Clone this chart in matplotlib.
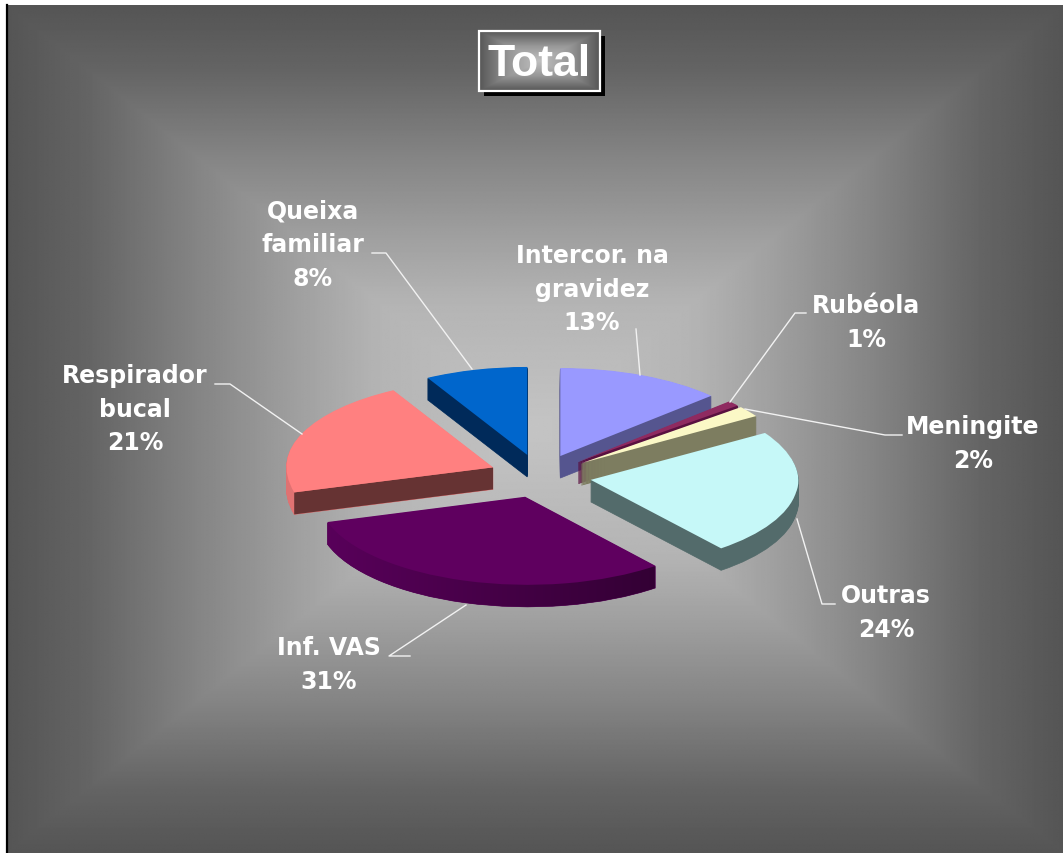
import numpy as np
import matplotlib
matplotlib.use('Agg')
import matplotlib.pyplot as plt
from matplotlib.path import Path
from matplotlib.patches import Rectangle, Polygon
from matplotlib.transforms import Transform, Affine2D

labels = ['Intercor. na\ngravidez\n13%', 'Rubéola\n1%', 'Meningite\n2%', 'Outras\n24%',
          'Inf. VAS\n31%', 'Respirador\nbucal\n21%', 'Queixa\nfamiliar\n8%']
values = [13, 1, 2, 24, 31, 21, 8]
top_colors = ['#9999ff', '#8f2a60', '#fbf8c6', '#c6f8f8', '#5f005f', '#ff8080', '#0066cc']
side_colors = ['#55558f', '#5a1040', '#7d7d60', '#536b6b', '#520052', '#e07272', '#002a5a']

label_pos = [(592, 290), (866, 323), (973, 444), (886, 613), (329, 665), (135, 410), (313, 245)]
leaders = [
    [(636, 330), (640, 376)],
    [(806, 314), (795, 314), (730, 403)],
    [(902, 436), (885, 436), (745, 410)],
    [(835, 605), (822, 605), (797, 520)],
    [(410, 657), (389, 657), (466, 606)],
    [(215, 385), (230, 385), (302, 435)],
    [(372, 254), (386, 254), (472, 370)],
]

W, H = 1063, 854
cx, cy = 540, 477   # pie centre in pixels
rx, ry = 207, 88    # pixels per pie radius
depth = 22
explode = 0.247


def rect_gradient(nx, ny, stops, levels):
    x = np.abs(np.linspace(-1, 1, nx))
    y = np.abs(np.linspace(-1, 1, ny))
    return np.interp(np.maximum.outer(y, x), stops, levels)


class FrontSkew(Transform):
    # the original 3D pie leans a little in its front half
    input_dims = 2
    output_dims = 2

    def transform_non_affine(self, v):
        x, y = v[:, 0], v[:, 1]
        g = np.clip(-y / 0.2, 0, 1)
        return np.column_stack([x + 0.052 * np.maximum(-y, 0), y + 0.04 * x * g])


fig = plt.figure(figsize=(W / 100, H / 100), dpi=100, facecolor='white')

# background
bg = fig.add_axes([0, 0, 1, 1], zorder=0)
bg.imshow(rect_gradient(600, 500, [0, 0.3, 0.45, 0.64, 0.85, 1], [196, 180, 160, 133, 100, 85]),
          cmap='gray', vmin=0, vmax=255, extent=(8, 1063, 854, 6), aspect='auto', interpolation='bilinear')
bg.plot([7, 7], [6, 854], color='black', lw=1.6)
bg.set_xlim(0, W)
bg.set_ylim(H, 0)
bg.axis('off')

# pie, squashed to an ellipse, thickness made from stacked layers
ax = fig.add_axes([0, 0, 1, 1], zorder=1)
skew = FrontSkew()
rim_parts = []
for d in range(depth, 0, -1):
    wedges, _ = ax.pie(values, explode=[explode] * len(values), colors=side_colors, startangle=90,
                       counterclock=False, radius=1, wedgeprops=dict(linewidth=0.5))
    layer = skew + Affine2D().translate(0, -d / ry)
    for w, c in zip(wedges, side_colors):
        w.set_transform(layer + ax.transData)
        w.set_edgecolor(c)
    vas = wedges[4]
    rim_parts.append(layer.transform_path(vas.get_path().transformed(vas.get_patch_transform())))
top, _ = ax.pie(values, explode=[explode] * len(values), colors=top_colors, startangle=90,
                counterclock=False, radius=1, wedgeprops=dict(linewidth=0))
for w in top:
    w.set_transform(skew + ax.transData)
    w.set_zorder(5)

# rim of the big slice darkens to the right
rim = Path.make_compound_path(*rim_parts)
shade = np.linspace(0x5a, 0x30, 256).reshape(1, -1)
im = ax.imshow(np.dstack([shade, shade * 0, shade * 1.02]) / 255, extent=(-1.1, 0.7, -1.6, -0.1),
               aspect='auto', zorder=1.5)
im.set_clip_path(rim, ax.transData)

# cut wall of the Respirador slice
a = np.deg2rad(90 - 360 * sum(values[:5]) / sum(values))
mid = np.deg2rad(90 - 360 * (sum(values[:5]) + values[5] / 2) / sum(values))
ox, oy = explode * np.cos(mid), explode * np.sin(mid)
(ax0, ay0), (tx, ty) = skew.transform(np.array([[ox, oy], [ox + np.cos(a), oy + np.sin(a)]]))
dd = depth / ry
ax.add_patch(Polygon([(ax0, ay0), (tx, ty), (tx, ty - dd), (ax0, ay0 - dd)], closed=True,
                     facecolor='#663333', edgecolor='none', zorder=2))

ax.set_aspect('auto')
ax.set_xlim(-cx / rx, (W - cx) / rx)
ax.set_ylim((cy - H) / ry, cy / ry)
ax.axis('off')

# title, labels, leader lines
ov = fig.add_axes([0, 0, 1, 1], zorder=2)
ov.patch.set_alpha(0)
ov.add_patch(Rectangle((484, 37), 121, 60, facecolor='black', edgecolor='none'))
ov.imshow(rect_gradient(120, 60, [0, 0.5, 1], [0xc0, 0x98, 0x58]), cmap='gray', vmin=0, vmax=255,
          extent=(479, 600, 92, 32), aspect='auto', interpolation='bilinear', zorder=1.5)
ov.add_patch(Rectangle((479, 32), 121, 60, facecolor='none', edgecolor='white', lw=1.6, zorder=2))
ov.text(539, 64, 'Total', color='white', fontsize=32, fontweight='bold', family='Liberation Sans',
        ha='center', va='center')

for pts in leaders:
    xs, ys = zip(*pts)
    ov.plot(xs, ys, color='#f2f2f2', lw=1.0)

for lab, (x, y) in zip(labels, label_pos):
    ov.text(x, y, lab, color='white', fontsize=17, fontweight='bold', family='DejaVu Sans',
            ha='center', va='center', multialignment='center', linespacing=1.5)

ov.set_xlim(0, W)
ov.set_ylim(H, 0)
ov.axis('off')

plt.savefig('out.png', dpi=100)
plt.close()
